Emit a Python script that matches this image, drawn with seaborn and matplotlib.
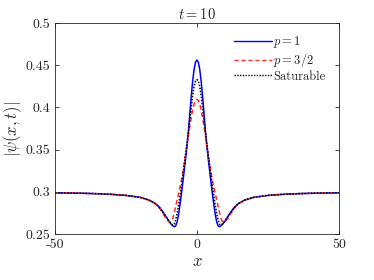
import numpy as np
import pandas as pd
import matplotlib
matplotlib.use("Agg")
import matplotlib.pyplot as plt
import seaborn as sns

# values for x >= 0; the curves are symmetric about x = 0
x_half = [0, 0.5, 1, 1.5, 2, 2.5, 3, 3.5, 4, 4.5, 5, 5.5, 6, 6.5, 7, 7.5, 8, 8.5, 9, 9.5, 10,
          11, 12, 13, 14, 15, 17, 20, 25, 30, 35, 40, 45, 50]

p1_half = [0.4562, 0.4535, 0.4450, 0.4310, 0.4130, 0.3925, 0.3720, 0.3540, 0.3390, 0.3245, 0.3100, 0.2965,
           0.2840, 0.2725, 0.2640, 0.2595, 0.2588, 0.2598, 0.2615, 0.2636, 0.2660,
           0.2712, 0.2765, 0.2810, 0.2845, 0.2870, 0.2905, 0.2935, 0.2958, 0.2970, 0.2978, 0.2983, 0.2986, 0.2989]

p32_half = [0.4096, 0.4082, 0.4040, 0.3970, 0.3880, 0.3775, 0.3660, 0.3548, 0.3440, 0.3330, 0.3220, 0.3130,
            0.3050, 0.2975, 0.2900, 0.2825, 0.2750, 0.2685, 0.2648, 0.2640, 0.2648,
            0.2688, 0.2745, 0.2800, 0.2838, 0.2866, 0.2903, 0.2935, 0.2958, 0.2970, 0.2978, 0.2983, 0.2986, 0.2989]

sat_half = [0.4330, 0.4310, 0.4250, 0.4140, 0.4000, 0.3850, 0.3700, 0.3570, 0.3440, 0.3310, 0.3180, 0.3055,
            0.2940, 0.2835, 0.2740, 0.2665, 0.2615, 0.2606, 0.2620, 0.2640, 0.2662,
            0.2712, 0.2758, 0.2805, 0.2842, 0.2868, 0.2904, 0.2935, 0.2958, 0.2970, 0.2978, 0.2983, 0.2986, 0.2989]

labels = ["$p=1$", "$p=3/2$", "Saturable"]
yticks = [0.25, 0.3, 0.35, 0.4, 0.45, 0.5]
ytick_labels = ["0.25", "0.3", "0.35", "0.4", "0.45", "0.5"]
xticks = [-50, 0, 50]
xtick_labels = ["-50", "0", "50"]


def mirror(xs, ys):
    # full curve from the x >= 0 half
    full_x = [-v for v in xs[:0:-1]] + list(xs)
    full_y = list(ys[:0:-1]) + list(ys)
    return full_x, full_y


frames = []
for lab, half in zip(labels, [p1_half, p32_half, sat_half]):
    fx, fy = mirror(x_half, half)
    frames.append(pd.DataFrame({"x": fx, "psi": fy, "case": lab}))
df = pd.concat(frames, ignore_index=True)

sns.set_style("ticks")
plt.rcParams["font.family"] = ["cmr10", "DejaVu Serif"]
plt.rcParams["mathtext.fontset"] = "cm"
plt.rcParams["axes.unicode_minus"] = False
plt.rcParams["axes.formatter.use_mathtext"] = True

fig = plt.figure(figsize=(3.74, 2.8), dpi=100)
ax = fig.add_axes([0.147, 0.164, 0.759, 0.754])

sns.lineplot(data=df, x="x", y="psi", hue="case", style="case",
             palette={labels[0]: "#0000ff", labels[1]: "#ff2a2a", labels[2]: "black"},
             dashes={labels[0]: "", labels[1]: (3, 2), labels[2]: (1, 1)},
             linewidth=1.1, ax=ax, sort=False)

ax.set_xlim(-50, 50)
ax.set_ylim(0.25, 0.5)
ax.set_xticks(xticks)
ax.set_xticklabels(xtick_labels)
ax.set_yticks(yticks)
ax.set_yticklabels(ytick_labels)
ax.tick_params(direction="in", top=True, right=True, length=3, width=0.6, labelsize=10, colors="#262626")
for s in ax.spines.values():
    s.set_linewidth(0.6)
    s.set_color("#262626")

ax.set_xlabel("$x$", fontsize=12, labelpad=2)
ax.set_ylabel(r"$|\psi(x,t)|$", fontsize=12, labelpad=1)
ax.set_title("$t=10$", fontsize=10.5, pad=3)

leg = ax.legend(loc="upper right", fontsize=9, frameon=True, fancybox=False,
                handlelength=3.0, handletextpad=0.15, labelspacing=0.1, borderpad=0.55,
                bbox_to_anchor=(1.0, 1.01))
leg.get_frame().set_edgecolor("white")
leg.get_frame().set_linewidth(0.6)
for line in leg.get_lines():
    line.set_linewidth(1.0)

fig.savefig("out.png", dpi=100)
